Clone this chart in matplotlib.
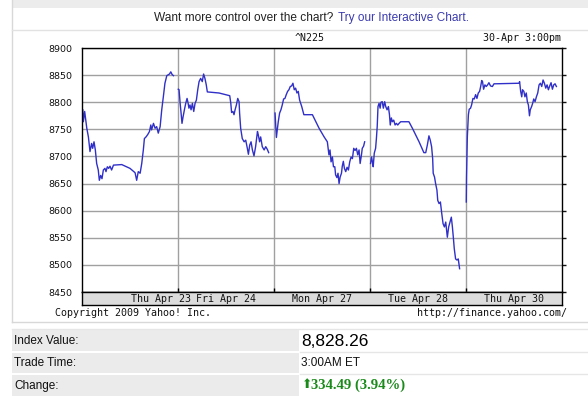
import matplotlib
matplotlib.use('Agg')
import matplotlib.pyplot as plt
from matplotlib.patches import Rectangle

# trading days shown (Apr 29 was a holiday in Tokyo)
days = ['Thu Apr 23', 'Fri Apr 24', 'Mon Apr 27', 'Tue Apr 28', 'Thu Apr 30']
day_label_pos = [0.82, 1.5, 2.5, 3.5, 4.5]

# intraday values: minutes after the 9:00 open, index level
apr23_min = [3, 5, 10, 18, 24, 30, 36, 40, 45, 50, 55, 61, 65, 70, 75, 80, 86, 90, 95, 100,
             105, 111, 118, 149, 180, 199, 205, 211, 218, 224, 230, 234, 240, 246, 253, 258, 261, 268, 274, 280,
             286, 293, 299, 305, 311, 318, 328, 333, 338, 343]
apr23_val = [8786, 8764, 8783, 8752, 8736, 8709, 8724, 8715, 8727, 8712, 8687, 8675, 8656, 8665, 8659, 8675, 8678, 8672, 8681, 8678,
             8682, 8675, 8684, 8685, 8678, 8670, 8656, 8672, 8669, 8687, 8712, 8733, 8736, 8740, 8746, 8758, 8749, 8761, 8752, 8755,
             8743, 8755, 8786, 8810, 8835, 8849, 8852, 8856, 8851, 8849]

apr24_min = [1, 4, 8, 11, 15, 19, 24, 29, 34, 38, 41, 45, 49, 54, 59, 64, 69, 74,
             79, 85, 91, 96, 101, 106, 110, 154, 194, 198, 201, 206, 210, 214, 219, 224, 229, 231, 235, 241,
             248, 254, 260, 264, 269, 274, 279, 285, 291, 298, 301, 306, 310, 316, 323, 329, 335, 340]
apr24_val = [8824, 8823, 8798, 8783, 8761, 8773, 8786, 8798, 8807, 8798, 8789, 8795, 8786, 8798, 8783, 8798, 8804, 8823,
             8838, 8844, 8838, 8852, 8844, 8832, 8819, 8817, 8812, 8798, 8781, 8783, 8777, 8786, 8795, 8807, 8801, 8780, 8752, 8733,
             8727, 8730, 8715, 8704, 8721, 8727, 8712, 8701, 8718, 8746, 8740, 8727, 8736, 8718, 8712, 8718, 8713, 8707]

apr27_min = [4, 6, 9, 13, 16, 21, 26, 31, 36, 41, 46, 51, 56, 61, 66, 71, 76, 81, 86, 91,
             96, 104, 112, 144, 169, 188, 200, 206, 210, 214, 219, 223, 228, 231, 236, 240, 244, 248, 253, 256,
             260, 264, 269, 274, 279, 284, 289, 294, 299, 304, 309, 314, 319, 323, 328, 331, 336, 340]
apr27_val = [8780, 8761, 8735, 8752, 8764, 8780, 8786, 8795, 8806, 8807, 8814, 8820, 8823, 8829, 8830, 8835, 8823, 8826, 8817, 8820,
             8804, 8792, 8777, 8777, 8752, 8736, 8727, 8703, 8712, 8690, 8699, 8681, 8681, 8666, 8661, 8669, 8650, 8662, 8669, 8682,
             8691, 8678, 8672, 8680, 8675, 8690, 8699, 8696, 8715, 8711, 8715, 8703, 8712, 8687, 8703, 8715, 8719, 8727]

apr28_min = [2, 6, 9, 12, 16, 21, 24, 27, 30, 34, 38, 41, 46, 50, 55, 59, 64, 69, 73, 76,
             80, 84, 89, 94, 99, 104, 109, 115, 146, 159, 184, 202, 209, 215, 221, 226, 231, 235, 237, 242,
             246, 251, 254, 259, 264, 269, 274, 279, 284, 290, 295, 300, 305, 309, 313, 316, 321, 326, 331, 336]
apr28_val = [8687, 8699, 8690, 8681, 8706, 8715, 8733, 8755, 8792, 8798, 8789, 8800, 8801, 8789, 8801, 8792, 8786, 8792, 8777, 8758,
             8771, 8764, 8767, 8758, 8761, 8758, 8761, 8764, 8764, 8752, 8727, 8707, 8707, 8721, 8738, 8730, 8718, 8696, 8669, 8662,
             8650, 8638, 8619, 8613, 8616, 8595, 8576, 8570, 8579, 8551, 8570, 8579, 8588, 8570, 8548, 8530, 8511, 8509, 8511, 8493]

apr30_min = [1, 2, 5, 9, 12, 17, 21, 26, 31, 36, 41, 46, 51, 55, 59, 62, 66, 71, 76, 81,
             86, 92, 99, 105, 111, 199, 201, 205, 209, 212, 217, 221, 226, 230, 234, 238, 241, 246, 250, 254,
             259, 264, 269, 274, 279, 284, 289, 294, 299, 304, 309, 314, 319, 324, 329, 334, 339]
apr30_val = [8616, 8662, 8736, 8777, 8787, 8789, 8795, 8807, 8806, 8814, 8807, 8817, 8820, 8829, 8840, 8838, 8824, 8832, 8829, 8832,
             8836, 8830, 8829, 8834, 8834, 8835, 8838, 8820, 8810, 8823, 8820, 8810, 8817, 8801, 8795, 8775, 8786, 8792, 8798, 8806,
             8801, 8810, 8817, 8832, 8835, 8829, 8841, 8835, 8826, 8832, 8823, 8830, 8836, 8824, 8832, 8834, 8829]

sessions = [(apr23_min, apr23_val), (apr24_min, apr24_val), (apr27_min, apr27_val),
            (apr28_min, apr28_val), (apr30_min, apr30_val)]
session_len = 360  # 9:00 - 15:00

y_ticks = [8450, 8500, 8550, 8600, 8650, 8700, 8750, 8800, 8850, 8900]

W, H = 588, 396
fig = plt.figure(figsize=(W / 100, H / 100), dpi=100)
fig.patch.set_facecolor('white')

# page furniture in pixel coordinates
bg = fig.add_axes([0, 0, 1, 1])
bg.set_xlim(0, W)
bg.set_ylim(H, 0)
bg.axis('off')
bg.add_patch(Rectangle((12, 0), W - 12, 8, color='#ececec', lw=0))
bg.plot([12, 12], [0, 322], color='#d8d8d8', lw=1)
bg.plot([12, W], [30, 30], color='#e2e2e2', lw=1)
bg.plot([12, W], [322, 322], color='#d8d8d8', lw=1)

bg.text(333, 18, 'Want more control over the chart?', ha='right', va='center',
        fontsize=8.6, family='Liberation Sans', color='#222222')
bg.text(338, 18, 'Try our Interactive Chart.', ha='left', va='center',
        fontsize=8.6, family='Liberation Sans', color='#3b3bb0')

mono = 'DejaVu Sans Mono'
bg.text(310, 38, '^N225', ha='center', va='center', fontsize=7.2, family=mono, color='#111111')
bg.text(561, 38, '30-Apr 3:00pm', ha='right', va='center', fontsize=7.2, family=mono, color='#111111')
bg.text(55, 313, 'Copyright 2009 Yahoo! Inc.', ha='left', va='center', fontsize=7.2, family=mono, color='#111111')
bg.text(567, 313, 'http://finance.yahoo.com/', ha='right', va='center', fontsize=7.2, family=mono, color='#111111')

# quote table
rows = [('Index Value:', 330, 351), ('Trade Time:', 353, 373), ('Change:', 375, 396)]
for label, y0, y1 in rows:
    bg.add_patch(Rectangle((12, y0), 287, y1 - y0, color='#ebebeb', lw=0))
    bg.plot([300, W], [y1 + 0.5, y1 + 0.5], color='#e6e6e6', lw=1)
    bg.text(14, (y0 + y1) / 2, label, ha='left', va='center', fontsize=8.5,
            family='Liberation Sans', color='#111111')
bg.plot([12, W], [329, 329], color='#e6e6e6', lw=1)
bg.text(301, 341, '8,828.26', ha='left', va='center', fontsize=12.5, family='Liberation Sans', color='#000000')
bg.text(301, 363, '3:00AM ET', ha='left', va='center', fontsize=8.5, family='Liberation Sans', color='#111111')
bg.text(302, 384, '\u2b06', ha='left', va='center', fontsize=9, family='DejaVu Sans', color='#1a8a1a')
bg.text(311, 385, '334.49 (3.94%)', ha='left', va='center', fontsize=10.6, family='Liberation Serif',
        weight='bold', color='#1a8a1a')

# main chart
ax = fig.add_axes([82 / W, 1 - 292 / H, 480 / W, 244 / H])
for i, (mins, vals) in enumerate(sessions):
    x = [i + m / session_len for m in mins]
    ax.plot(x, vals, color='#3030c8', lw=1)

ax.set_xlim(0, len(days))
ax.set_ylim(y_ticks[0], y_ticks[-1])
ax.set_yticks(y_ticks)
ax.set_xticks(range(1, len(days)))
ax.set_xticklabels([])
ax.grid(True, color='#a0a0a0', lw=1)
ax.set_axisbelow(True)
ax.tick_params(axis='y', left=False, right=True, direction='out', length=3, width=1,
               labelsize=6.8, pad=4, colors='#111111')
ax.tick_params(axis='x', bottom=True, direction='in', length=3, width=1)
for s in ax.spines.values():
    s.set_color('black')
    s.set_linewidth(1)

# date strip under the plot
strip = fig.add_axes([82 / W, 1 - 305 / H, 480 / W, 13 / H])
strip.set_facecolor('#dcdcdc')
strip.set_xlim(0, len(days))
strip.set_ylim(0, 1)
strip.set_xticks([])
strip.set_yticks([])
for s in strip.spines.values():
    s.set_color('black')
    s.set_linewidth(1)
for pos, lab in zip(day_label_pos, days):
    strip.text(pos, 0.45, lab, ha='center', va='center', fontsize=7.2, family=mono, color='#111111')

fig.savefig('out.png', dpi=100)
